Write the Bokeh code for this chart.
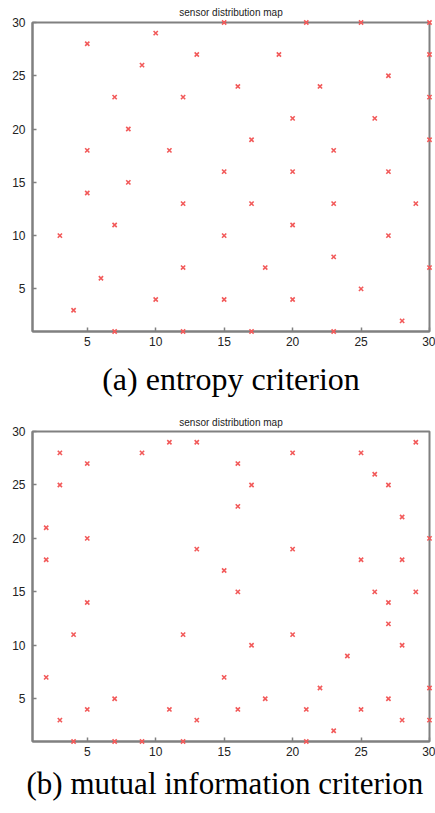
from bokeh.plotting import figure
from bokeh.layouts import column
from bokeh.models import Range1d, FixedTicker, Title
from bokeh.embed import file_html
from bokeh.resources import INLINE

# ---- data ----
chart_title = "sensor distribution map"
caption_a = "(a) entropy criterion"
caption_b = "(b) mutual information criterion"
x_ticks = [5, 10, 15, 20, 25, 30]
y_ticks = [5, 10, 15, 20, 25, 30]

entropy_x = [5, 10, 9, 13, 7, 12, 8, 5, 11, 8, 15, 21, 25, 30, 19, 30, 27, 16, 22, 30,
             20, 26, 17, 30, 23, 15, 20, 27, 17, 23, 29, 20, 15, 27, 23, 18, 30, 25, 15, 20,
             28, 17, 23, 5, 12, 7, 3, 6, 12, 10, 4, 7, 12]
entropy_y = [28, 29, 26, 27, 23, 23, 20, 18, 18, 15, 30, 30, 30, 30, 27, 27, 25, 24, 24, 23,
             21, 21, 19, 19, 18, 16, 16, 16, 13, 13, 13, 11, 10, 10, 8, 7, 7, 5, 4, 4,
             2, 1, 1, 14, 13, 11, 10, 6, 7, 4, 3, 1, 1]

mi_x = [3, 3, 5, 9, 11, 13, 2, 2, 5, 13,
        29, 20, 25, 16, 26, 17, 27, 16, 28, 30, 20, 25, 28, 15,
        16, 26, 29, 27, 27, 20, 17, 28, 24, 15, 30, 22, 18, 27, 16, 21, 25, 28, 30, 23, 21,
        5, 4, 12, 2, 7, 5, 11, 3, 13, 4, 7, 9, 12]
mi_y = [28, 25, 27, 28, 29, 29, 21, 18, 20, 19,
        29, 28, 28, 27, 26, 25, 25, 23, 22, 20, 19, 18, 18, 17,
        15, 15, 15, 14, 12, 11, 10, 10, 9, 7, 6, 6, 5, 5, 4, 4, 4, 3, 3, 2, 1,
        14, 11, 11, 7, 5, 4, 4, 3, 3, 1, 1, 1, 1]

FRAME = "#808080"
MARK = "#f25a5a"


def make_plot(xs, ys, caption, height, left, right, top, bottom, cap_align, cap_offset,
              title_standoff, cap_standoff, cap_size):
    p = figure(width=435, height=height,
               x_range=Range1d(1, 30), y_range=Range1d(1, 30),
               output_backend="svg", toolbar_location=None,
               min_border_left=left, min_border_right=right,
               min_border_top=top, min_border_bottom=bottom)
    p.title.text = chart_title
    p.title.align = "center"
    p.title.text_font = "Liberation Sans"
    p.title.text_font_size = "10px"
    p.title.text_font_style = "normal"
    p.title.text_color = "#222222"
    p.title.standoff = title_standoff

    p.scatter(xs, ys, marker="x", size=6, line_color=MARK, line_width=1.6,
              level="overlay")

    p.xgrid.visible = False
    p.ygrid.visible = False
    p.outline_line_color = FRAME
    p.outline_line_width = 2
    p.outline_line_alpha = 1
    p.background_fill_color = "white"
    p.border_fill_color = "white"

    p.xaxis.ticker = FixedTicker(ticks=x_ticks)
    p.yaxis.ticker = FixedTicker(ticks=y_ticks)
    for ax in (p.xaxis[0], p.yaxis[0]):
        ax.axis_line_color = FRAME
        ax.axis_line_width = 2
        ax.major_tick_in = 4
        ax.major_tick_out = 0
        ax.major_tick_line_color = FRAME
        ax.major_tick_line_width = 1.5
        ax.minor_tick_line_color = None
        ax.major_label_text_font = "Liberation Sans"
        ax.major_label_text_font_size = "12px"
        ax.major_label_text_color = "#222222"
    p.xaxis.major_label_standoff = 5
    p.yaxis.major_label_standoff = 7

    cap = Title(text=caption, align=cap_align, offset=cap_offset,
                text_font="Liberation Serif", text_font_size=cap_size,
                text_font_style="normal", text_color="black", standoff=cap_standoff)
    p.add_layout(cap, "below")
    return p


p1 = make_plot(entropy_x, entropy_y, caption_a, 411, 30, 6, 21, 80, "center", 0, 9, 21, "32px")
p2 = make_plot(mi_x, mi_y, caption_b, 402, 32, 3, 20, 72, "left", -6, 7, 11, "31px")

layout = column(p1, p2, spacing=0)
open("out.html", "w").write(file_html(layout, INLINE))
